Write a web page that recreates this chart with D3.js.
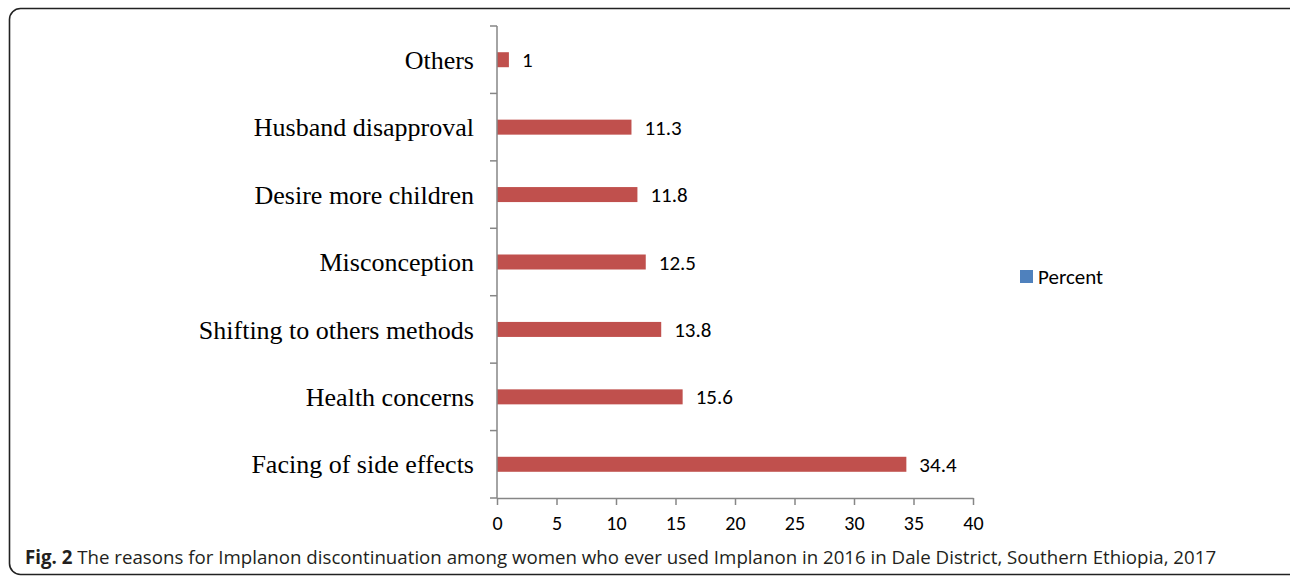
<!DOCTYPE html>
<html>
<head>
<meta charset="utf-8">
<script src="https://cdn.jsdelivr.net/npm/d3@7"></script>
<style>
  body { margin: 0; background: #fff; }
  svg { display: block; }
</style>
</head>
<body>
<svg id="chart" width="1290" height="578"></svg>
<script>
// reasons, top to bottom as drawn
const categories = ['Others', 'Husband disapproval', 'Desire more children', 'Misconception',
                    'Shifting to others methods', 'Health concerns', 'Facing of side effects'];
const percent = [1, 11.3, 11.8, 12.5, 13.8, 15.6, 34.4];
const xTicks = [0, 5, 10, 15, 20, 25, 30, 35, 40];
const seriesName = 'Percent';

const svg = d3.select('#chart');
const sansFont = 'Carlito, Lato, sans-serif';

// rounded frame around the figure
svg.append('rect')
    .attr('x', 9.5).attr('y', 8.5)
    .attr('width', 1300).attr('height', 566)
    .attr('rx', 11)
    .attr('fill', 'none')
    .attr('stroke', '#222')
    .attr('stroke-width', 1.6);

const plotL = 497, plotR = 973, plotT = 26, plotB = 498;

const x = d3.scaleLinear().domain([0, 40]).range([plotL, plotR]);
const y = d3.scaleBand().domain(categories).range([plotT, plotB]);
const barH = 15;

const g = svg.append('g');

g.selectAll('rect.bar')
    .data(percent)
    .enter().append('rect')
    .attr('class', 'bar')
    .attr('x', x(0))
    .attr('y', (d, i) => y(categories[i]) + y.bandwidth() / 2 - barH / 2)
    .attr('width', d => x(d) - x(0))
    .attr('height', barH)
    .attr('fill', '#C0504D');

g.selectAll('text.val')
    .data(percent)
    .enter().append('text')
    .attr('class', 'val')
    .attr('x', d => x(d) + 13)
    .attr('y', (d, i) => y(categories[i]) + y.bandwidth() / 2)
    .attr('dy', '0.36em')
    .attr('font-family', sansFont)
    .attr('font-size', 21)
    .attr('fill', '#000')
    .text(d => d);

// y axis: line with ticks at band edges
const yAxis = g.append('g');
yAxis.append('line')
    .attr('x1', plotL).attr('x2', plotL)
    .attr('y1', plotT).attr('y2', plotB)
    .attr('stroke', '#868686').attr('stroke-width', 1.5);
yAxis.selectAll('line.tk')
    .data(categories.map(c => y(c)).concat([plotB]))
    .enter().append('line')
    .attr('class', 'tk')
    .attr('x1', plotL - 7).attr('x2', plotL)
    .attr('y1', d => d).attr('y2', d => d)
    .attr('stroke', '#868686').attr('stroke-width', 1.5);
yAxis.selectAll('text')
    .data(categories)
    .enter().append('text')
    .attr('x', plotL - 23)
    .attr('y', d => y(d) + y.bandwidth() / 2)
    .attr('dy', '0.35em')
    .attr('text-anchor', 'end')
    .attr('font-family', '"Liberation Serif", "Times New Roman", serif')
    .attr('font-size', 26)
    .attr('fill', '#000')
    .text(d => d);

// x axis
const xAxis = g.append('g')
    .attr('transform', `translate(0,${plotB})`)
    .call(d3.axisBottom(x).tickValues(xTicks).tickSize(7).tickSizeOuter(0).tickPadding(11));
xAxis.select('.domain').attr('stroke', '#868686').attr('stroke-width', 1.5);
xAxis.selectAll('.tick line').attr('stroke', '#868686').attr('stroke-width', 1.5);
xAxis.selectAll('.tick text')
    .attr('font-family', sansFont)
    .attr('font-size', 20)
    .attr('fill', '#000');

// legend
const lg = svg.append('g').attr('transform', 'translate(1020,270)');
lg.append('rect').attr('width', 13).attr('height', 13).attr('fill', '#4F81BD');
lg.append('text')
    .attr('x', 18).attr('y', 6.5).attr('dy', '0.36em')
    .attr('font-family', sansFont)
    .attr('font-size', 21)
    .text(seriesName);

// caption
const cap = svg.append('text')
    .attr('x', 25).attr('y', 564)
    .attr('font-family', '"Open Sans", sans-serif')
    .attr('font-size', 18.7)
    .attr('fill', '#231f20');
cap.append('tspan').attr('font-weight', 'bold').text('Fig. 2');
cap.append('tspan').text(' The reasons for Implanon discontinuation among women who ever used Implanon in 2016 in Dale District, Southern Ethiopia, 2017');
</script>
</body>
</html>
